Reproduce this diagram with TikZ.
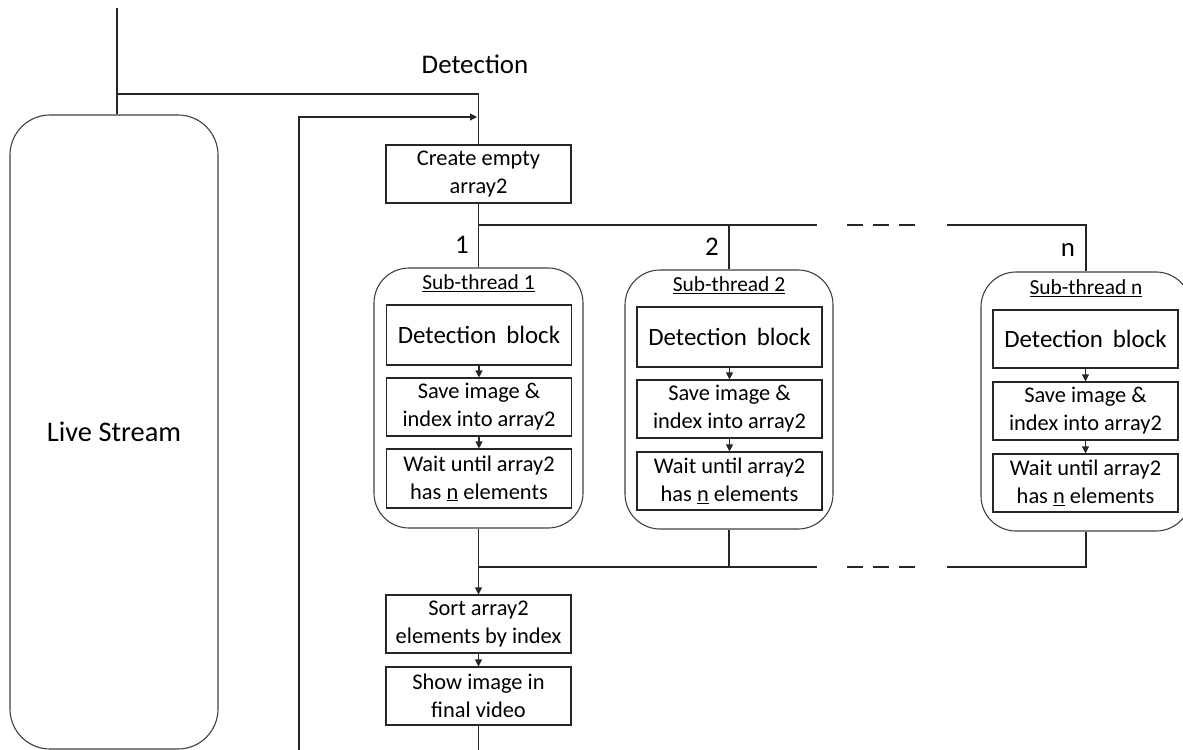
\documentclass[tikz,border=0pt]{standalone}
\usepackage{fontspec}
\setmainfont{Carlito}
\usetikzlibrary{arrows.meta}
\tikzset{
  ln/.style={line width=1.1bp, draw=black!85},
  arr/.style={ln, -{Triangle[length=7bp,width=7bp]}},
  box/.style={ln, rectangle, minimum width=185bp, minimum height=58bp, align=center, inner sep=0pt, font=\fontsize{22.5}{28}\selectfont},
  bigbox/.style={box, font=\fontsize{25}{29}\selectfont},
  thread/.style={ln, draw=black!75, rectangle, rounded corners=35bp, minimum width=209bp, minimum height=260bp},
  ttl/.style={font=\fontsize{21.5}{25}\selectfont, inner sep=0pt},
  lbl/.style={font=\fontsize{27}{30}\selectfont, inner sep=0pt},
}
\begin{document}
\begin{tikzpicture}[x=1bp,y=-1bp]
\clip (0,0) rectangle (1183,750);
% live stream
\node[ln, draw=black!75, rectangle, rounded corners=40bp, minimum width=208bp, minimum height=634bp, font=\fontsize{28.5}{32}\selectfont] (live) at (114,432) {Live Stream};
\node[lbl] (dettitle) at (475,64) {Detection};
% create
\node[box] (create) at (478.5,174) {Create empty\\array2};
% threads
\node[thread] (st1) at (478.5,398) {};
\node[thread, minimum width=208bp, minimum height=259bp] (st2) at (729,399.5) {};
\node[thread, minimum width=210bp, minimum height=259bp] (stn) at (1086,401.5) {};
\node[ttl] (t1) at (478.5,283) {\underline{Sub-thread 1}};
\node[ttl] (t2) at (729,285) {\underline{Sub-thread 2}};
\node[ttl] (tn) at (1086,288) {\underline{Sub-thread n}};
% inner boxes
\node[bigbox, minimum height=60bp] (det1) at (479,335) {Detection\, block};
\node[box] (save1) at (479,407) {Save image \&\\index into array2};
\node[box, minimum height=59bp] (wait1) at (479,478.5) {Wait until array2\\has \underline{n} elements};
\node[bigbox, minimum height=60bp] (det2) at (729.5,337) {Detection\, block};
\node[box] (save2) at (729.5,409) {Save image \&\\index into array2};
\node[box] (wait2) at (729.5,481) {Wait until array2\\has \underline{n} elements};
\node[bigbox] (detn) at (1085.5,339) {Detection\, block};
\node[box] (saven) at (1085.5,411) {Save image \&\\index into array2};
\node[box] (waitn) at (1085.5,483) {Wait until array2\\has \underline{n} elements};
% sort and show
\node[box] (sort) at (478.5,624) {Sort array2\\elements by index};
\node[box] (show) at (478.5,696) {Show image in\\final video};
% labels
\node[lbl] (l1) at (462,245) {1};
\node[lbl] (l2) at (712,247) {2};
\node[lbl] (ln) at (1068,250) {n};
% coordinates
\coordinate (top) at (117,8);
\coordinate (j1) at (117,94);
\coordinate (loopbot) at (299,752);
\coordinate (loopend) at (477,117);
\coordinate (brtop) at (478.5,225);
\coordinate (b2) at (729,225);
\coordinate (da) at (817,225);
\coordinate (db) at (847,225);
\coordinate (dc) at (917,225);
\coordinate (dd) at (947,225);
\coordinate (brbot) at (478.5,567);
\coordinate (c2) at (729,567);
\coordinate (ea) at (817,567);
\coordinate (eb) at (847,567);
\coordinate (ec) at (917,567);
\coordinate (ed) at (947,567);
\coordinate (showend) at (478.5,752);
% connectors
\draw[ln] (top) -- (top |- live.north);
\draw[ln] (j1) -| (create.north);
\draw[arr] (loopbot) |- (loopend);
\draw[ln] (create.south) -- (st1.north);
\draw[ln] (brtop) -- (da);
\draw[ln, dash pattern=on 16bp off 10bp] (db) -- (dc);
\draw[ln] (dd) -| (stn.north);
\draw[ln] (b2) -- (st2.north);
\draw[arr] (st1.south) -- (sort.north);
\draw[ln] (brbot) -- (ea);
\draw[ln, dash pattern=on 16bp off 10bp] (eb) -- (ec);
\draw[ln] (ed) -| (stn.south);
\draw[ln] (st2.south) -- (c2);
\draw[arr] (det1) -- (save1);
\draw[arr] (save1) -- (wait1);
\draw[arr] (det2) -- (save2);
\draw[arr] (save2) -- (wait2);
\draw[arr] (detn) -- (saven);
\draw[arr] (saven) -- (waitn);
\draw[arr] (sort) -- (show);
\draw[ln] (show.south) -- (showend);
\end{tikzpicture}
\end{document}
